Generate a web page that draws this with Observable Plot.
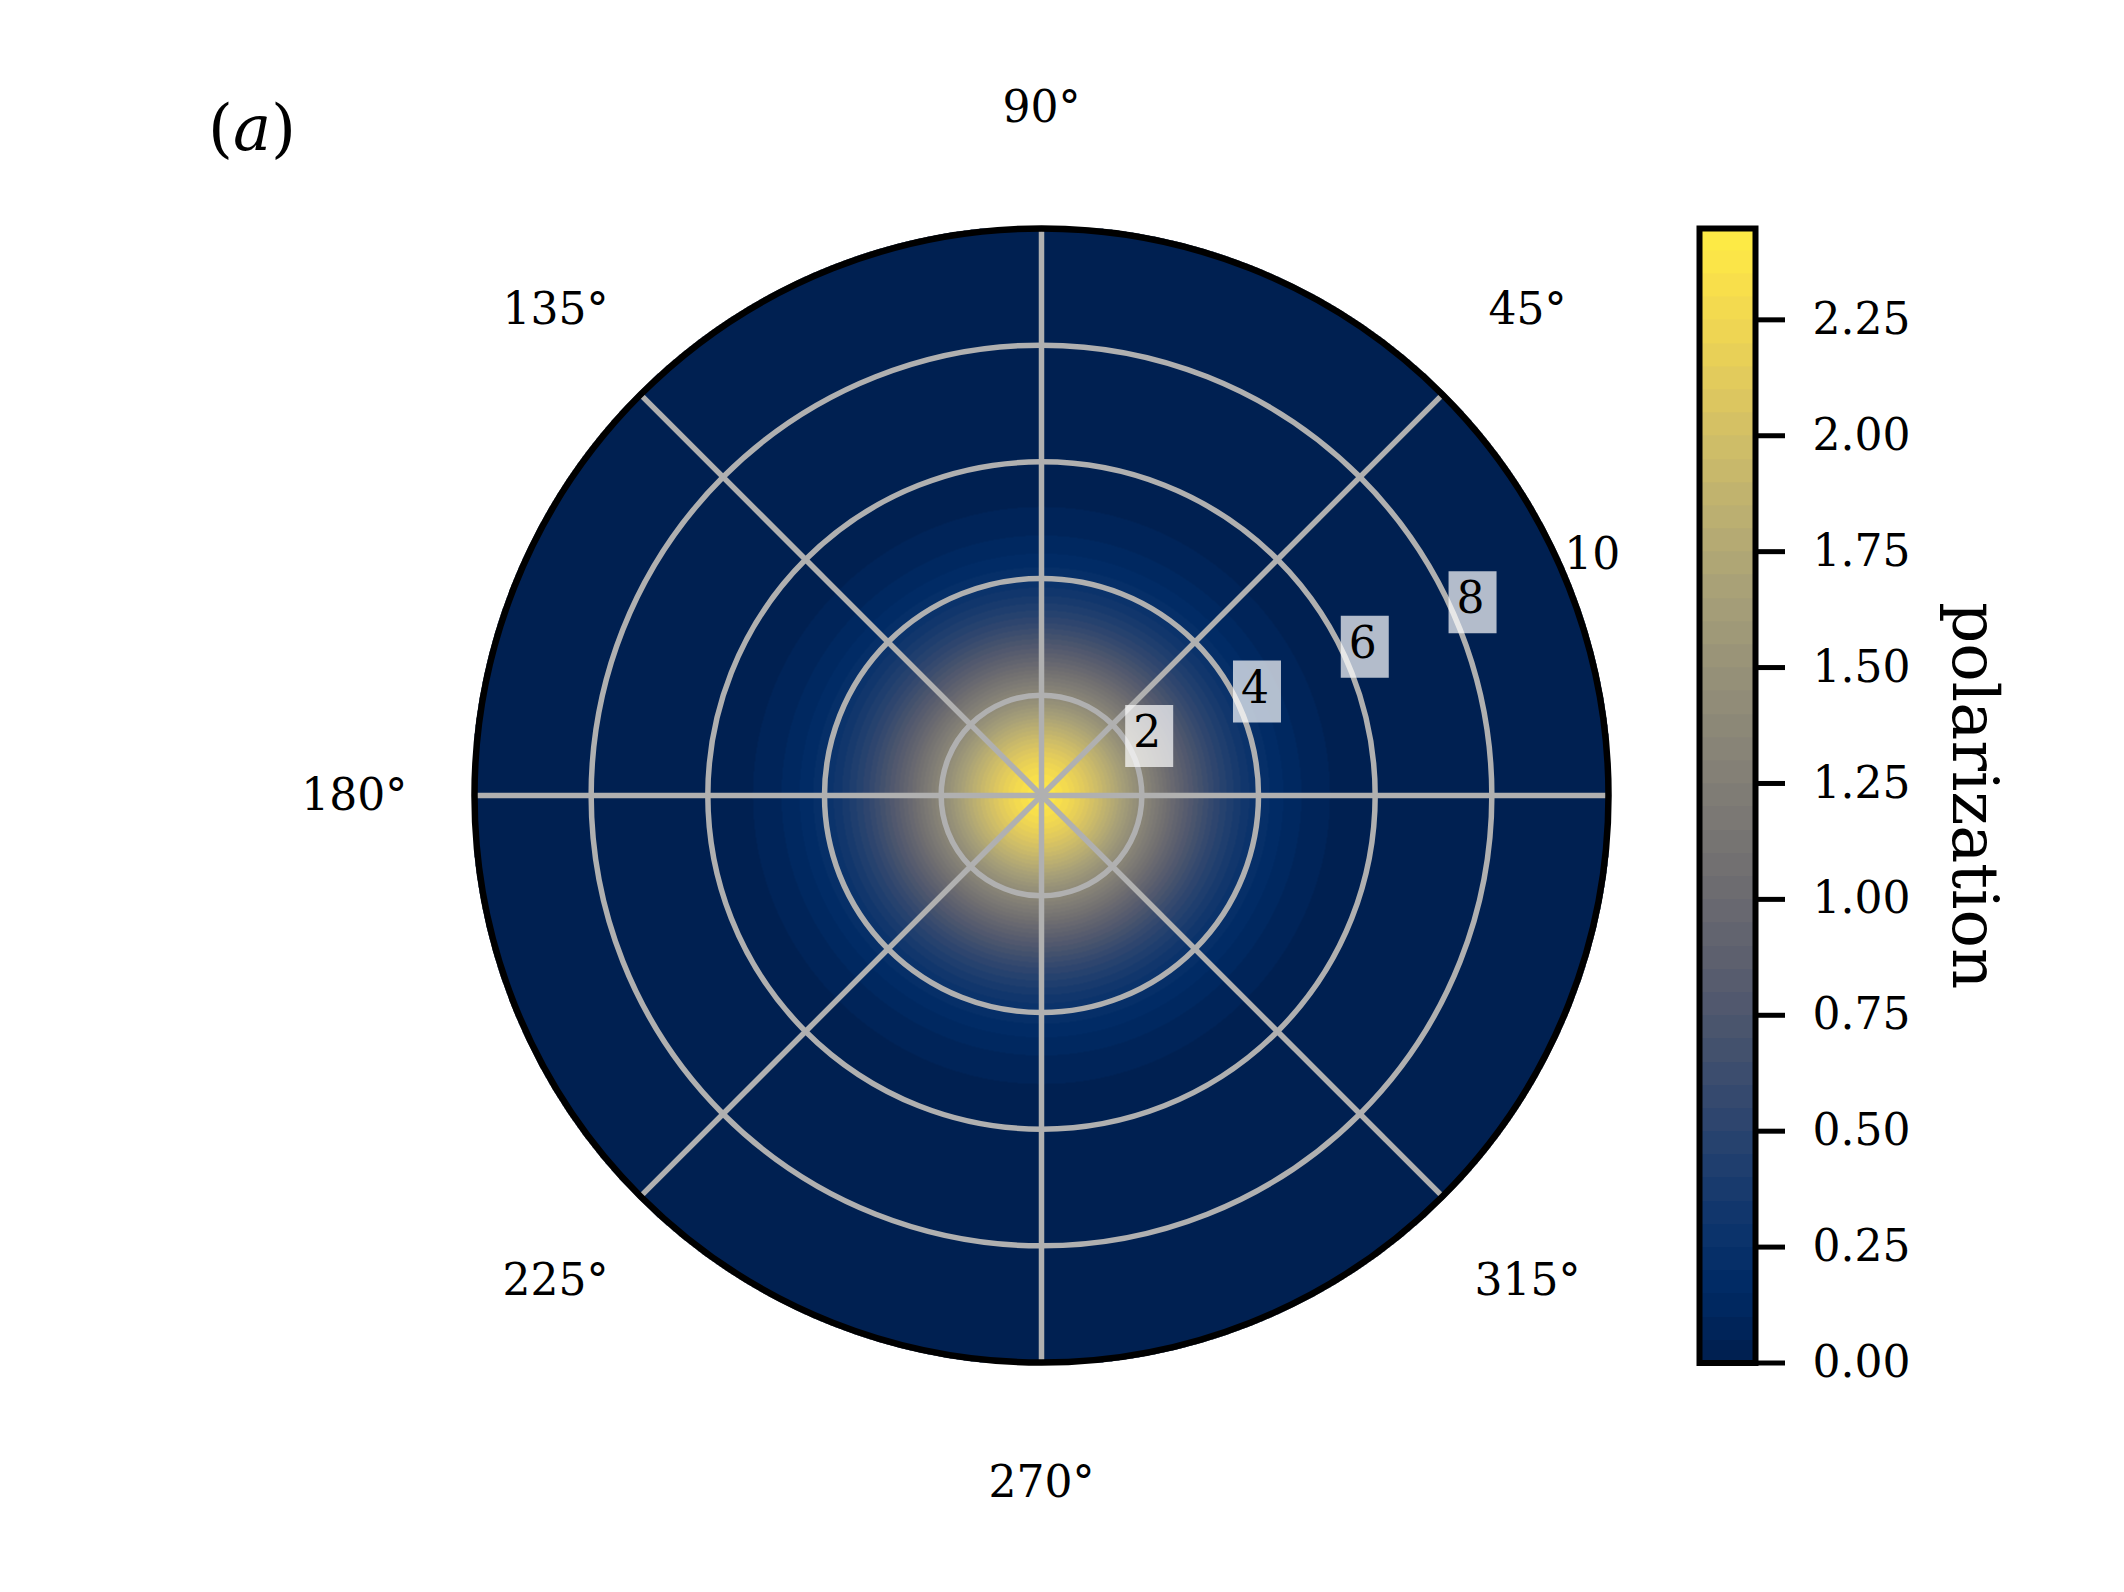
<!DOCTYPE html>
<html>
<head>
<meta charset="utf-8">
<script src="https://cdn.jsdelivr.net/npm/d3@7"></script>
<script src="https://cdn.jsdelivr.net/npm/@observablehq/plot@0.6"></script>
<style>
  html, body { margin: 0; padding: 0; background: #fff; overflow: hidden; }
  #fig { position: relative; width: 2124px; height: 1592px; font-family: "DejaVu Serif", serif; }
  #fig svg { position: absolute; left: 0; top: 0; max-width: none; }
  #tag { position: absolute; left: 252px; top: 128px; transform: translate(-50%, -50%);
         font-size: 64px; line-height: 1; white-space: nowrap; color: #000; }
</style>
</head>
<body>
<div id="fig"><div id="tag">(<i>a</i>)</div></div>
<script>
// ---- data ----
// radial profile of the polarization (radius r, value)
const radius       = [0.28, 0.5, 0.75, 1.0, 1.25, 1.5, 1.75, 2.0, 2.25, 2.5, 2.75, 3.0, 3.25, 3.5, 3.75, 4.0, 4.25, 4.5, 4.75, 5.0, 5.25, 5.5, 5.75, 6.0, 6.5, 7.0, 8.0, 10.0];
const polarization = [2.44, 2.36, 2.26, 2.12, 1.96, 1.78, 1.58, 1.38, 1.19, 1.00, 0.83, 0.68, 0.54, 0.43, 0.33, 0.25, 0.185, 0.136, 0.098, 0.069, 0.048, 0.033, 0.022, 0.014, 0.005, 0.002, 0.0, 0.0];

const gridRadii    = [2, 4, 6, 8];
const radialLabels = [2, 4, 6, 8, 10];
const spokeAngles  = [0, 45, 90, 135, 180, 225, 270, 315];
const angleLabels  = [45, 90, 135, 180, 225, 270, 315];
const colorTicks   = [0, 0.25, 0.5, 0.75, 1.0, 1.25, 1.5, 1.75, 2.0, 2.25];
const colorMax     = 2.447;
const rMin = 0.28, rMax = 10;

// ---- drawing ----
const D = rMax - rMin;
const deg = Math.PI / 180;
const profile = d3.scaleLinear(radius, polarization).clamp(true);
const colorOpts = { type: "quantize", n: 50, domain: [0, colorMax], scheme: "cividis" };
const fontStyle = { fontFamily: "DejaVu Serif", fontSize: "44px", background: "transparent", overflow: "visible" };
const gridColor = "#b0b0b0";
const labelAngle = 22.5 * deg;
const angleLabelR = 11.78;
const boxSymbol = { draw(ctx) { ctx.rect(-24, -31, 48, 62); } };

const main = Plot.plot({
  width: 2124, height: 1592, margin: 0,
  style: fontStyle,
  x: { domain: [-D, D], range: [474, 1608], axis: null },
  y: { domain: [-D, D], range: [1362, 228], axis: null },
  r: { type: "linear", domain: [0, D], range: [0, 567] },
  color: colorOpts,
  marks: [
    Plot.raster({
      x1: -D, x2: D, y1: -D, y2: D, pixelSize: 1,
      fill: (x, y) => {
        const rho = Math.hypot(x, y) + rMin;
        return rho <= rMax + 0.05 ? profile(rho) : NaN;
      }
    }),
    Plot.link(spokeAngles, {
      x1: 0, y1: 0,
      x2: a => D * Math.cos(a * deg), y2: a => D * Math.sin(a * deg),
      stroke: gridColor, strokeWidth: 5.5
    }),
    Plot.dot(gridRadii, { x: 0, y: 0, r: d => d - rMin, fill: "none", stroke: gridColor, strokeWidth: 5.5 }),
    Plot.dot([rMax], { x: 0, y: 0, r: d => d - rMin, fill: "none", stroke: "black", strokeWidth: 6.5 }),
    Plot.dot(gridRadii, {
      x: d => (d - rMin) * Math.cos(labelAngle), y: d => (d - rMin) * Math.sin(labelAngle),
      symbol: boxSymbol, fill: "white", fillOpacity: 0.7, stroke: "none", dx: 15, dy: -21
    }),
    Plot.text(radialLabels, {
      x: d => (d - rMin) * Math.cos(labelAngle), y: d => (d - rMin) * Math.sin(labelAngle),
      text: d => String(d), textAnchor: "start", lineAnchor: "middle", dx: -1, dy: -24, fill: "black"
    }),
    Plot.text(angleLabels, {
      x: a => angleLabelR * Math.cos(a * deg), y: a => angleLabelR * Math.sin(a * deg),
      text: a => `${a}°`, lineAnchor: "middle", fill: "black"
    })
  ]
});

const cbar = Plot.plot({
  width: 2124, height: 1592,
  marginLeft: 1699, marginRight: 369, marginTop: 228, marginBottom: 229.5,
  style: fontStyle,
  x: { domain: [0, 1], axis: null },
  y: { domain: [0, colorMax], axis: null },
  color: colorOpts,
  marks: [
    Plot.raster({ x1: 0, x2: 1, y1: 0, y2: colorMax, pixelSize: 1, fill: (x, y) => y }),
    Plot.frame({ stroke: "black", strokeWidth: 6 }),
    Plot.axisY(colorTicks, {
      anchor: "right", tickSize: 29, tickPadding: 28, strokeWidth: 5,
      tickFormat: d => d.toFixed(2), label: null, fill: "black"
    }),
    Plot.text(["polarization"], {
      frameAnchor: "right", rotate: 90, dx: 218, textAnchor: "middle", lineAnchor: "middle",
      text: d => d, fontSize: 64, fill: "black"
    })
  ]
});

const fig = document.getElementById("fig");
fig.appendChild(main);
fig.appendChild(cbar);
</script>
</body>
</html>
